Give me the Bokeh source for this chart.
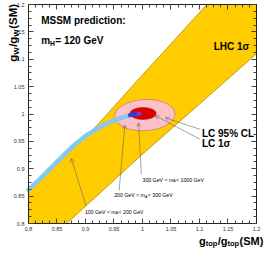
from math import pi
from bokeh.plotting import figure
from bokeh.models import (Range1d, LinearAxis, FixedTicker, CustomJSTickFormatter,
                          Label, Arrow, OpenHead)
from bokeh.embed import file_html
from bokeh.resources import INLINE

# ---------------- data ----------------
# LHC 1 sigma band (polygon outline, clipped at the plot box)
band_x = [0.800, 0.921, 0.990, 1.113, 1.200, 1.200, 0.995, 0.867, 0.800]
band_y = [0.860, 0.980, 1.060, 1.200, 1.200, 1.110, 0.922, 0.800, 0.800]

# MSSM prediction, 100 GeV < mA < 300 GeV (light blue)
mssm_x = [0.800, 0.820, 0.840, 0.860, 0.880, 0.900, 0.920, 0.940, 0.960, 0.975]
mssm_y = [0.862, 0.881, 0.902, 0.923, 0.943, 0.960, 0.973, 0.984, 0.992, 0.997]
# 300 GeV < mA < 1000 GeV (blue) and decoupling end (purple)
heavy_x = [0.975, 0.990]
heavy_y = [0.997, 1.000]
decoup_x = [0.990, 0.998]
decoup_y = [1.000, 1.001]

# LC ellipses: centre x, centre y, full width, full height
lc95_x, lc95_y, lc95_w, lc95_h = [1.004], [0.998], [0.106], [0.057]
lc1_x, lc1_y, lc1_w, lc1_h = [1.001], [1.001], [0.046], [0.022]

axis_min, axis_max = 0.8, 1.2
major_ticks = [0.8, 0.85, 0.9, 0.95, 1.0, 1.05, 1.1, 1.15, 1.2]
minor_ticks = [round(0.8 + 0.0125 * i, 4) for i in range(33)]

# ---------------- helpers ----------------
REG = {' ': 278, '%': 889, '(': 333, ')': 333, '/': 278, ':': 278, '<': 584, '=': 584,
       'A': 667, 'C': 722, 'G': 778, 'H': 722, 'L': 556, 'M': 833, 'S': 667, 'V': 667,
       'W': 944, 'c': 500, 'd': 556, 'e': 556, 'g': 556, 'i': 222, 'm': 833, 'n': 556,
       'o': 556, 'p': 556, 'r': 333, 't': 278, 'σ': 600}
BOLD = {' ': 278, '%': 889, '(': 333, ')': 333, '/': 278, ':': 333, '<': 584, '=': 584,
        'A': 722, 'C': 722, 'G': 778, 'H': 722, 'L': 611, 'M': 833, 'S': 667, 'V': 667,
        'W': 944, 'c': 556, 'd': 611, 'e': 556, 'g': 611, 'i': 278, 'm': 889, 'n': 611,
        'o': 611, 'p': 611, 'r': 389, 't': 333, 'σ': 620}
FONT = "Liberation Sans"


def text_width(s, size, bold):
    tab = BOLD if bold else REG
    return sum(tab.get(c, 556) for c in s) / 1000.0 * size


def rich(p, x, y, parts, size, bold=False, angle=0.0, color="black"):
    off = 0.0
    for txt, sub in parts:
        fs = size * 0.68 if sub else size
        drop = size * 0.28 if sub else 0.0
        if angle == 0.0:
            xo, yo = off, -drop
        else:
            xo, yo = drop, off
        p.add_layout(Label(x=x, y=y, x_offset=xo, y_offset=yo, text=txt, angle=angle,
                           text_font=FONT, text_font_size=f"{fs:.2f}px",
                           text_font_style="bold" if bold else "normal",
                           text_color=color, text_baseline="alphabetic", text_align="left"))
        off += text_width(txt, fs, bold) + (0.4 if sub else 0.0)


# ---------------- figure ----------------
# the frame covers the whole canvas; the axes sit at fixed data locations
p = figure(width=265, height=248,
           x_range=Range1d(0.75088, 1.21579), y_range=Range1d(0.75434, 1.20731),
           output_backend="svg", toolbar_location=None,
           min_border_left=0, min_border_right=0, min_border_top=0, min_border_bottom=0)
p.grid.visible = False
p.outline_line_color = None
p.background_fill_color = "white"
p.border_fill_color = "white"

ticker = FixedTicker(ticks=major_ticks, minor_ticks=minor_ticks)
fmt = CustomJSTickFormatter(code="return String(Math.round(tick*1000)/1000);")
blank = CustomJSTickFormatter(code="return '';")


def style_axis(ax, loc, labels=True):
    ax.ticker = ticker
    ax.formatter = fmt if labels else blank
    ax.fixed_location = loc
    ax.bounds = (axis_min, axis_max)
    ax.axis_line_color = "#222222"
    ax.axis_line_width = 1
    ax.major_tick_in = 5
    ax.major_tick_out = 0
    ax.minor_tick_in = 3
    ax.minor_tick_out = 0
    ax.major_tick_line_color = "#444444"
    ax.minor_tick_line_color = "#444444"
    ax.major_label_text_font = FONT
    ax.major_label_text_color = "#333333"
    ax.major_label_text_font_size = "5.5px"


style_axis(p.xaxis[0], axis_min)
style_axis(p.yaxis[0], axis_min)
p.xaxis[0].major_label_standoff = 3
p.yaxis[0].major_label_standoff = 4
top_ax = LinearAxis()
right_ax = LinearAxis()
style_axis(top_ax, axis_max, labels=False)
style_axis(right_ax, axis_max, labels=False)
p.add_layout(top_ax, "above")
p.add_layout(right_ax, "right")

# LHC band
p.patch(band_x, band_y, fill_color="#FFCC00", line_color="#B08A00", line_width=0.8)

# LC ellipses
p.ellipse(x=lc95_x, y=lc95_y, width=lc95_w, height=lc95_h, angle=0.05,
          fill_color="#FBC0C8", line_color="#C08080", line_width=0.8)
p.ellipse(x=lc1_x, y=lc1_y, width=lc1_w, height=lc1_h,
          fill_color="#DD0000", line_color="#AA0000", line_width=0.5)

# MSSM predictions
p.line(mssm_x, mssm_y, line_color="#86C8F0", line_width=4.5, line_cap="round")
p.line(heavy_x, heavy_y, line_color="#2540E0", line_width=4.0)
p.line(decoup_x, decoup_y, line_color="#7A3CCB", line_width=4.0)

# annotation arrows
arrows = [
    (1.101, 0.972, 1.040, 0.993),   # LC 95% CL
    (1.101, 0.954, 1.022, 0.997),   # LC 1 sigma
    (0.998, 0.890, 0.993, 0.984),   # 300-1000 GeV
    (0.959, 0.860, 0.969, 0.980),   # 200-300 GeV
    (0.901, 0.832, 0.875, 0.919),   # 100-200 GeV
]
for xs, ys, xe, ye in arrows:
    p.add_layout(Arrow(x_start=xs, y_start=ys, x_end=xe, y_end=ye,
                       line_color="#666666", line_width=0.6,
                       end=OpenHead(size=4, line_color="#666666", line_width=0.6)))

# texts
rich(p, 0.8222, 1.170, [("MSSM prediction:", False)], 10, bold=True)
rich(p, 0.8222, 1.1345, [("m", False), ("H", True), (" = 120 GeV", False)], 10, bold=True)
rich(p, 1.1248, 1.1239, [("LHC 1σ", False)], 10, bold=True)
rich(p, 1.1043, 0.9646, [("LC 95% CL", False)], 10, bold=True)
rich(p, 1.1043, 0.946, [("LC 1σ", False)], 10, bold=True)

rich(p, 1.000, 0.8796, [("300 GeV < m", False), ("A", True), (" < 1000 GeV", False)], 5.2)
rich(p, 0.9504, 0.8513, [("200 GeV < m", False), ("A", True), (" < 300 GeV", False)], 5.2)
rich(p, 0.8991, 0.8212, [("100 GeV < m", False), ("A", True), (" < 200 GeV", False)], 5.2)

# axis titles
rich(p, 1.0991, 0.76895, [("g", False), ("top", True), ("/g", False), ("top", True), ("(SM)", False)],
     11, bold=True)
rich(p, 0.7728, 1.0956, [("g", False), ("W", True), ("/g", False), ("W", True), ("(SM)", False)],
     11.5, bold=True, angle=pi / 2)

open("out.html", "w").write(file_html(p, INLINE))
